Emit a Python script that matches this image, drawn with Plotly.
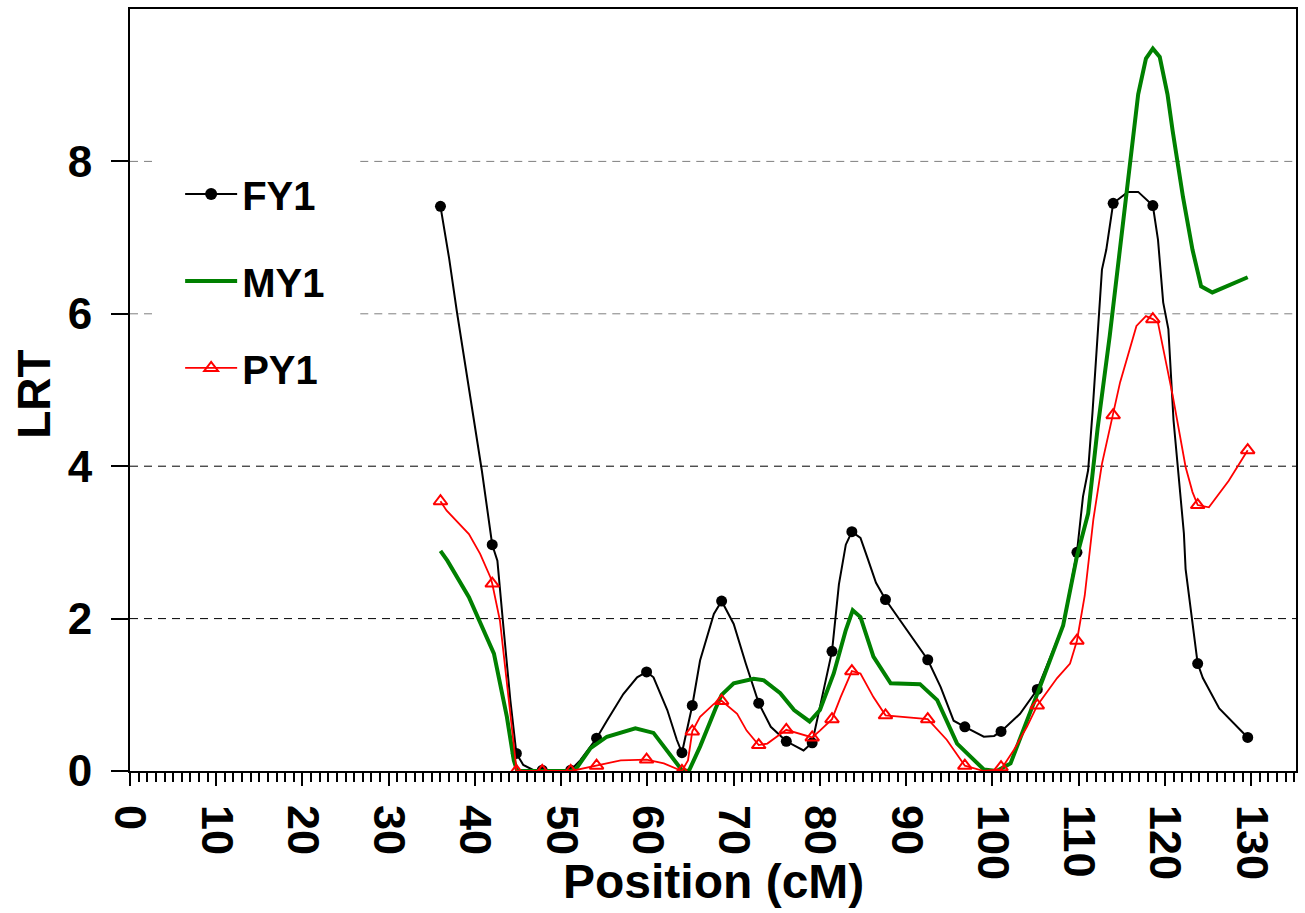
import plotly.graph_objects as go

# ---------------- data ----------------
marker_cm = [36.0, 42.0, 44.8, 47.8, 51.1, 54.1, 59.9, 64.0, 65.2, 68.6, 72.9, 76.1,
             79.1, 81.4, 83.7, 87.6, 92.5, 96.8, 101.0, 105.2, 109.8, 114.0, 118.6,
             123.8, 129.6]
fy1_at_markers = [7.41, 2.97, 0.23, 0.01, 0.01, 0.43, 1.30, 0.24, 0.86, 2.23, 0.89, 0.39,
                  0.37, 1.57, 3.14, 2.25, 1.46, 0.58, 0.52, 1.07, 2.87, 7.45, 7.42,
                  1.41, 0.44]
py1_at_markers = [3.54, 2.46, 0.0, 0.0, 0.0, 0.07, 0.15, 0.0, 0.52, 0.92, 0.34, 0.54,
                  0.44, 0.68, 1.31, 0.73, 0.68, 0.07, 0.05, 0.86, 1.71, 4.67, 5.93,
                  3.49, 4.21]

fy1_cm = [36.0, 37.0, 37.9, 39.5, 40.8, 42.0, 42.6, 43.3, 44.1, 44.8, 45.6, 46.8, 47.8,
          51.1, 52.2, 54.1, 55.3, 57.2, 58.8, 59.9, 60.7, 62.3, 63.4, 64.0, 65.2, 66.1,
          67.7, 68.6, 70.0, 71.4, 72.9, 74.3, 76.1, 78.1, 79.1, 81.4, 82.2, 83.0, 83.7,
          84.7, 85.5, 86.5, 87.6, 90.1, 92.5, 94.0, 95.5, 96.8, 99.0, 100.2, 101.0,
          103.2, 105.2, 108.2, 109.8, 110.5, 111.1, 111.6, 112.7, 113.2, 114.0, 115.7,
          116.9, 118.6, 119.2, 119.8, 120.4, 121.0, 122.2, 122.4, 123.2, 123.8, 124.4,
          126.3, 129.6]
fy1_lrt = [7.41, 6.73, 6.03, 4.90, 3.94, 2.97, 2.76, 1.89, 0.93, 0.23, 0.08, 0.01, 0.01,
           0.01, 0.14, 0.43, 0.66, 1.01, 1.23, 1.30, 1.23, 0.80, 0.41, 0.24, 0.86, 1.45,
           2.06, 2.23, 1.93, 1.41, 0.89, 0.58, 0.39, 0.27, 0.37, 1.57, 2.45, 2.97, 3.14,
           3.06, 2.80, 2.47, 2.25, 1.84, 1.46, 1.10, 0.66, 0.58, 0.45, 0.46, 0.52,
           0.75, 1.07, 1.91, 2.87, 3.60, 3.95, 4.70, 6.58, 6.84, 7.45, 7.60,
           7.60, 7.42, 6.97, 6.15, 5.80, 4.60, 3.12, 2.65, 1.91, 1.41, 1.22,
           0.82, 0.44]

my1_cm = [36.0, 36.8, 39.3, 42.2, 43.7, 44.5, 44.9, 47.8, 51.1, 51.8, 53.4, 55.3, 58.6,
          60.7, 62.3, 64.0, 64.8, 66.1, 67.9, 68.6, 70.0, 72.3, 73.5, 75.4, 77.0, 78.8,
          80.0, 81.6, 83.0, 83.8, 84.7, 86.2, 88.2, 91.6, 93.6, 95.9, 99.0, 100.5, 102.1,
          104.4, 105.6, 108.2, 109.8, 111.1, 112.2, 113.6, 115.5, 116.9, 117.8, 118.6,
          119.4, 120.3, 120.9, 122.1, 123.2, 124.2, 125.5, 126.7, 129.6]
my1_lrt = [2.89, 2.76, 2.28, 1.54, 0.71, 0.14, 0.0, 0.0, 0.0, 0.04, 0.30, 0.45, 0.56,
           0.50, 0.27, 0.01, 0.0, 0.32, 0.82, 1.00, 1.15, 1.21, 1.19, 1.02, 0.80, 0.65,
           0.80, 1.28, 1.85, 2.11, 2.02, 1.50, 1.15, 1.14, 0.93, 0.36, 0.02, 0.0, 0.10,
           0.76, 1.13, 1.91, 2.82, 3.38, 4.50, 5.71, 7.58, 8.88, 9.35, 9.48,
           9.37, 8.88, 8.40, 7.53, 6.84, 6.36, 6.28, 6.34, 6.48]

py1_cm = [36.0, 36.7, 39.3, 40.6, 41.8, 42.0, 42.9, 44.1, 44.7, 44.8, 47.8, 51.1, 51.6,
          54.1, 56.9, 59.9, 61.9, 64.0, 64.7, 65.2, 66.1, 67.7, 68.6, 70.4, 71.5, 72.9,
          73.9, 76.1, 77.7, 79.1, 80.0, 81.4, 82.4, 83.7, 84.7, 86.2, 87.6, 92.5, 94.7,
          96.8, 99.0, 101.0, 102.5, 104.0, 105.2, 107.5, 109.0, 109.8, 110.7, 111.7,
          112.7, 114.0, 114.8, 115.7, 116.7, 117.8, 118.6, 119.2, 120.0, 120.9, 122.4,
          123.2, 123.8, 125.1, 127.4, 129.6]
py1_lrt = [3.54, 3.42, 3.11, 2.85, 2.54, 2.46, 1.97, 0.80, 0.14, 0.0, 0.0, 0.0, 0.01,
           0.07, 0.14, 0.15, 0.10, 0.0, 0.14, 0.52, 0.71, 0.88, 0.92, 0.75, 0.53, 0.34,
           0.36, 0.54, 0.49, 0.44, 0.53, 0.68, 0.97, 1.31, 1.28, 0.97, 0.73, 0.68, 0.41,
           0.07, 0.0, 0.02, 0.28, 0.58, 0.86, 1.22, 1.41, 1.71, 2.30, 3.30,
           4.03, 4.67, 5.10, 5.45, 5.84, 5.97, 5.93, 5.88, 5.41, 4.93, 3.99,
           3.66, 3.49, 3.46, 3.81, 4.21]

x_ticks = list(range(0, 131, 10))
y_ticks = [0, 2, 4, 6, 8]
series_names = ["FY1", "MY1", "PY1"]

# ---------------- figure ----------------
FONT = "Liberation Sans, Arial, Helvetica, sans-serif"
X_MAX = 135.2
Y_MAX = 10

fig = go.Figure()

# FY1
fig.add_trace(go.Scatter(x=fy1_cm, y=fy1_lrt, mode="lines",
                         line=dict(color="black", width=2),
                         showlegend=False, hoverinfo="skip"))
fig.add_trace(go.Scatter(x=marker_cm, y=fy1_at_markers, mode="markers",
                         marker=dict(symbol="circle", size=11, color="black"),
                         showlegend=False))
# MY1
fig.add_trace(go.Scatter(x=my1_cm, y=my1_lrt, mode="lines",
                         line=dict(color="#008000", width=4),
                         showlegend=False))
# PY1
fig.add_trace(go.Scatter(x=py1_cm, y=py1_lrt, mode="lines",
                         line=dict(color="#ff0000", width=1.8),
                         showlegend=False, hoverinfo="skip"))
fig.add_trace(go.Scatter(x=marker_cm, y=py1_at_markers, mode="markers",
                         marker=dict(symbol="triangle-up-open", size=12, color="#ff0000",
                                     line=dict(width=2, color="#ff0000")),
                         showlegend=False))

# legend entries
fig.add_trace(go.Scatter(x=[None], y=[None], mode="lines+markers", name=series_names[0],
                         legendgroup="a",
                         line=dict(color="black", width=2),
                         marker=dict(symbol="circle", size=12, color="black")))
fig.add_trace(go.Scatter(x=[None], y=[None], mode="lines", name=series_names[1],
                         legendgroup="b",
                         line=dict(color="#008000", width=4)))
fig.add_trace(go.Scatter(x=[None], y=[None], mode="lines+markers", name=series_names[2],
                         legendgroup="c",
                         line=dict(color="#ff0000", width=1.8),
                         marker=dict(symbol="triangle-up-open", size=12, color="#ff0000",
                                     line=dict(width=2, color="#ff0000"))))

# dashed reference lines (legend leaves a gap in the upper two)
shapes = []
for yv in [2, 4]:
    shapes.append(dict(type="line", xref="x", yref="y", x0=0, x1=X_MAX, y0=yv, y1=yv,
                       line=dict(color="black", width=1, dash="8px,6px"), layer="below"))
for yv in [6, 8]:
    for (a, b) in [(0, 2.8), (26.7, X_MAX)]:
        shapes.append(dict(type="line", xref="x", yref="y", x0=a, x1=b, y0=yv, y1=yv,
                           line=dict(color="#7f7f7f", width=1, dash="8px,6px"),
                           layer="below"))

fig.update_layout(
    width=1305, height=913,
    margin=dict(l=130, r=8, t=7, b=142),
    paper_bgcolor="white", plot_bgcolor="white",
    font=dict(family=FONT, color="black", size=40, weight="bold"),
    shapes=shapes,
    showlegend=True,
    legend=dict(x=0.043, y=0.80, xanchor="left", yanchor="top",
                bgcolor="rgba(0,0,0,0)", borderwidth=0,
                font=dict(family=FONT, size=40, color="black", weight="bold"),
                tracegroupgap=32, itemwidth=52, traceorder="grouped"),
    annotations=[
        dict(text="Position (cM)", xref="paper", yref="paper", x=0.5, y=-0.145,
             xanchor="center", yanchor="middle", showarrow=False,
             font=dict(family=FONT, size=48, color="black", weight="bold")),
        dict(text="LRT", xref="paper", yref="paper", x=-0.083, y=0.494,
             xanchor="center", yanchor="middle", showarrow=False, textangle=-90,
             font=dict(family=FONT, size=46, color="black", weight="bold")),
    ],
)

fig.update_xaxes(
    range=[0, X_MAX], tickmode="array", tickvals=x_ticks,
    ticktext=[str(v) for v in x_ticks], tickangle=90,
    ticks="outside", ticklen=13, tickwidth=2, tickcolor="black",
    minor=dict(dtick=1, ticks="outside", ticklen=9, tickwidth=1.5, tickcolor="black",
               showgrid=False),
    showline=True, linewidth=2, linecolor="black", mirror=True,
    showgrid=False, zeroline=False,
    tickfont=dict(family=FONT, size=45, color="black", weight="bold"),
    ticklabelstandoff=10,
)
fig.update_yaxes(
    range=[0, Y_MAX], tickmode="array", tickvals=y_ticks,
    ticktext=[str(v) for v in y_ticks],
    ticks="outside", ticklen=17, tickwidth=2, tickcolor="black",
    showline=True, linewidth=2, linecolor="black", mirror=True,
    showgrid=False, zeroline=False,
    tickfont=dict(family=FONT, size=44, color="black", weight="bold"),
    ticklabelstandoff=10,
)

fig.write_html("out.html")
